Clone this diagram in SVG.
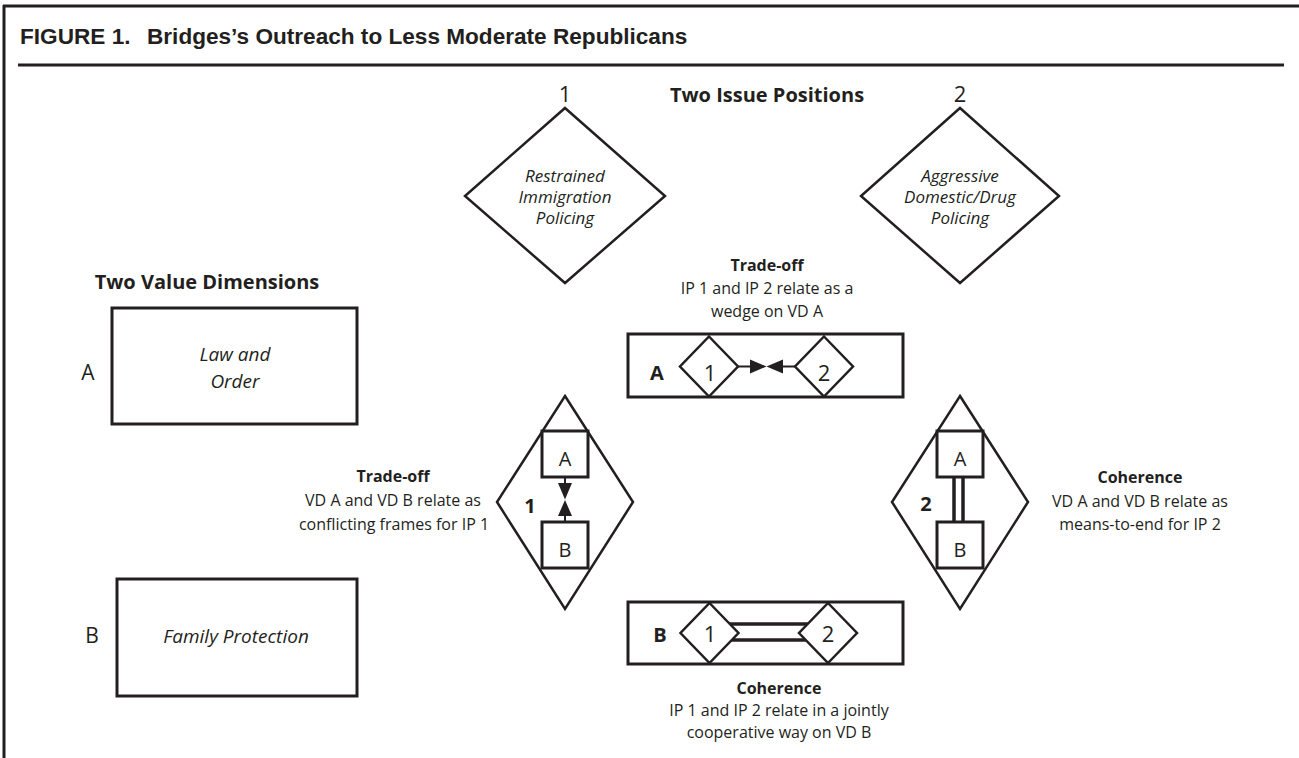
<svg xmlns="http://www.w3.org/2000/svg" width="1299" height="758" viewBox="0 0 1299 758">
  <style>
    .frame { stroke: #231f20; stroke-width: 3; fill: none; }
    .box { stroke: #231f20; stroke-width: 3; fill: none; }
    .dia { stroke: #231f20; stroke-width: 2.5; fill: none; stroke-linejoin: miter; }
    .dia-w { stroke: #231f20; stroke-width: 2.5; fill: #ffffff; stroke-linejoin: miter; }
    .t { font-family: "Open Sans", "Noto Sans", "DejaVu Sans", sans-serif; fill: #231f20; text-anchor: middle; }
    .title { font-family: "Liberation Sans", Arial, sans-serif; font-weight: bold; font-size: 22.6px; fill: #231f20; }
    .hd { font-size: 20px; font-weight: bold; }
    .small { font-size: 16px; }
    .lbl { font-size: 16px; font-weight: bold; }
    .it17 { font-size: 17px; font-style: italic; }
    .it19 { font-size: 19px; font-style: italic; }
    .num { font-size: 22px; }
    .big { font-size: 21px; }
    .inner { font-size: 20px; }
    .bnum { font-size: 20px; font-weight: bold; }
    .line { stroke: #231f20; stroke-width: 2; fill: none; }
    .dbl { stroke: #231f20; stroke-width: 3.5; fill: none; }
    .head { fill: #231f20; stroke: none; }
  </style>

  <!-- page frame and title -->
  <g id="frame">
    <line class="frame" x1="3" y1="6" x2="1299" y2="6"/>
    <line class="frame" x1="4" y1="5" x2="4" y2="758"/>
    <line class="frame" x1="18" y1="65" x2="1284" y2="65"/>
    <text class="title" x="20" y="44">FIGURE 1.</text>
    <text class="title" x="147" y="44">Bridges’s Outreach to Less Moderate Republicans</text>
  </g>

  <!-- section headings -->
  <g id="headings">
    <text class="t hd" x="767" y="102">Two Issue Positions</text>
    <text class="t hd" x="207" y="289">Two Value Dimensions</text>
  </g>

  <!-- connectors -->
  <g id="connectors">
    <!-- wedge on VD A: arrows meeting tip to tip -->
    <line class="line" x1="738" y1="366.5" x2="752" y2="366.5"/>
    <polygon class="head" points="750,359.5 766.5,366.5 750,373.5"/>
    <line class="line" x1="795" y1="366.5" x2="781" y2="366.5"/>
    <polygon class="head" points="783,359.5 766.5,366.5 783,373.5"/>
    <!-- conflicting frames for IP 1 -->
    <line class="line" x1="565" y1="477" x2="565" y2="485"/>
    <polygon class="head" points="558,483 565,499.5 572,483"/>
    <line class="line" x1="565" y1="522" x2="565" y2="514"/>
    <polygon class="head" points="558,516 565,500 572,516"/>
    <!-- means-to-end for IP 2 -->
    <line class="dbl" x1="954" y1="477" x2="954" y2="522"/>
    <line class="dbl" x1="963" y1="477" x2="963" y2="522"/>
    <!-- jointly cooperative on VD B -->
    <line class="dbl" x1="722" y1="624" x2="816" y2="624"/>
    <line class="dbl" x1="722" y1="640" x2="816" y2="640"/>
  </g>

  <!-- issue position 1 -->
  <g id="ip1">
    <text class="t num" x="565" y="102">1</text>
    <polygon class="dia" points="565,108 665,196 565,283 465,196"/>
    <text class="t it17" x="565" y="182">Restrained</text>
    <text class="t it17" x="565" y="203">Immigration</text>
    <text class="t it17" x="565" y="224">Policing</text>
  </g>

  <!-- issue position 2 -->
  <g id="ip2">
    <text class="t num" x="960" y="102">2</text>
    <polygon class="dia" points="960,108 1059,196 960,283 861,196"/>
    <text class="t it17" x="960" y="182">Aggressive</text>
    <text class="t it17" x="960" y="203">Domestic/Drug</text>
    <text class="t it17" x="960" y="224">Policing</text>
  </g>

  <!-- value dimension A -->
  <g id="vdA">
    <text class="t big" x="88" y="380">A</text>
    <rect class="box" x="112" y="308" width="245" height="116"/>
    <text class="t it19" x="235" y="361">Law and</text>
    <text class="t it19" x="235" y="388">Order</text>
  </g>

  <!-- value dimension B -->
  <g id="vdB">
    <text class="t big" x="92" y="643">B</text>
    <rect class="box" x="117" y="579" width="240" height="117"/>
    <text class="t it19" x="236" y="643">Family Protection</text>
  </g>

  <!-- trade-off on VD A -->
  <g id="wedgeA">
    <text class="t lbl" x="767" y="271">Trade-off</text>
    <text class="t small" x="767" y="294">IP 1 and IP 2 relate as a</text>
    <text class="t small" x="767" y="317">wedge on VD A</text>
    <rect class="box" x="628" y="334" width="275" height="63"/>
    <text class="t bnum" x="657" y="380">A</text>
    <polygon class="dia" points="709,336.5 738,366.5 709,396.5 680,366.5"/>
    <text class="t num" x="710" y="381">1</text>
    <polygon class="dia" points="824,336.5 853,366.5 824,396.5 795,366.5"/>
    <text class="t num" x="824" y="381">2</text>
  </g>

  <!-- coherence on VD B -->
  <g id="coopB">
    <rect class="box" x="628" y="602" width="275" height="62"/>
    <text class="t bnum" x="660" y="642">B</text>
    <polygon class="dia-w" points="709.5,603 738.5,633 709.5,663 680.5,633"/>
    <text class="t num" x="710" y="642">1</text>
    <polygon class="dia-w" points="828,603 857,633 828,663 799,633"/>
    <text class="t num" x="828" y="642">2</text>
    <text class="t lbl" x="779" y="694">Coherence</text>
    <text class="t small" x="779" y="716">IP 1 and IP 2 relate in a jointly</text>
    <text class="t small" x="779" y="738">cooperative way on VD B</text>
  </g>

  <!-- trade-off between frames for IP 1 -->
  <g id="framesIP1">
    <polygon class="dia" points="565,396 633,502 565,609 497,502"/>
    <rect class="box" x="542" y="431" width="46" height="46"/>
    <text class="t inner" x="565" y="466">A</text>
    <rect class="box" x="542" y="522" width="46" height="46"/>
    <text class="t inner" x="565" y="557">B</text>
    <text class="t bnum" x="530" y="513">1</text>
    <text class="t lbl" x="393" y="482">Trade-off</text>
    <text class="t small" x="393" y="506">VD A and VD B relate as</text>
    <text class="t small" x="394" y="530">conflicting frames for IP 1</text>
  </g>

  <!-- coherence between frames for IP 2 -->
  <g id="framesIP2">
    <polygon class="dia" points="960,396 1028,502 960,609 892,502"/>
    <rect class="box" x="937" y="431" width="46" height="46"/>
    <text class="t inner" x="960" y="466">A</text>
    <rect class="box" x="937" y="522" width="46" height="46"/>
    <text class="t inner" x="960" y="557">B</text>
    <text class="t bnum" x="926" y="511">2</text>
    <text class="t lbl" x="1140" y="483">Coherence</text>
    <text class="t small" x="1140" y="507">VD A and VD B relate as</text>
    <text class="t small" x="1140" y="530">means-to-end for IP 2</text>
  </g>
</svg>
